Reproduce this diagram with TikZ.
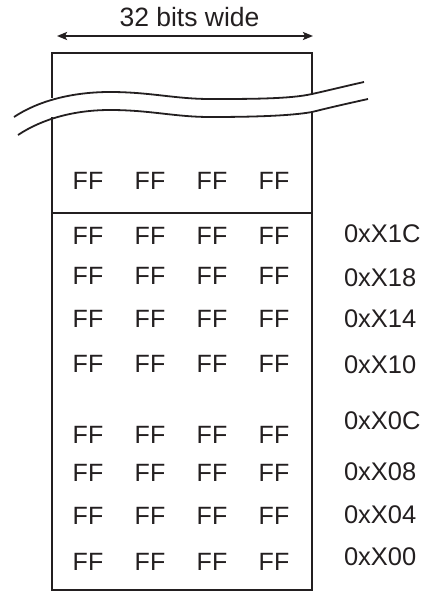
\documentclass[tikz,border=0pt]{standalone}
\usepackage{fontspec}
\setmainfont{Liberation Sans}
\usetikzlibrary{arrows.meta}
\definecolor{ink}{HTML}{231F20}
\begin{document}
\begin{tikzpicture}[x=1pt,y=-1pt,
  lbl/.style={inner sep=0pt,outer sep=0pt,text=ink,font=\fontsize{25}{30}\selectfont},
  edge/.style={draw=ink,line width=2pt},
  wave/.style={draw=ink,line width=1.8pt},
  dim/.style={draw=ink,line width=2pt,{Stealth[length=10pt,width=8pt,inset=2pt]}-{Stealth[length=10pt,width=8pt,inset=2pt]}}]
\useasboundingbox (0,0) rectangle (426,594);
% title and dimension arrow
\node[lbl,font=\fontsize{26.5}{31}\selectfont] (title) at (189.5,17) {32 bits wide};
\coordinate (aL) at (57,36);
\coordinate (aR) at (313,36);
\draw[dim] (aL) -- (aR);
% box corners
\coordinate (tl) at (52,53);
\coordinate (tr) at (312,53);
\coordinate (bl) at (52,590);
\coordinate (br) at (312,590);
\coordinate (dl) at (52,213);
\coordinate (dr) at (312,213);
\coordinate (ul) at (52,98);
\coordinate (ur) at (312,94);
\coordinate (ll) at (52,117);
\coordinate (lr) at (312,112);
% box outline with break
\draw[edge] (ul) -- (tl) -- (tr) -- (ur);
\draw[edge] (ll) -- (bl) -- (br) -- (lr);
\draw[edge] (dl) -- (dr);
% wavy break lines
\draw[wave] (14,117) .. controls (38,101) and (72,92) .. (110,92)
  .. controls (150,92) and (175,99) .. (210,99)
  .. controls (250,99) and (290,99) .. (312,94)
  .. controls (330,90) and (346,86) .. (364,82);
\draw[wave] (18,135) .. controls (42,119) and (74,110) .. (110,110)
  .. controls (150,110) and (175,117) .. (210,117)
  .. controls (250,117) and (290,116) .. (312,112)
  .. controls (332,107) and (350,103) .. (368,99);
% FF cells
\foreach \r/\y in {0/181,1/236,2/276,3/319,4/364,5/435,6/473,7/516,8/562}{
  \foreach \c/\x in {0/88,1/150,2/212,3/274}{
    \node[lbl] (ff\r\c) at (\x,\y) {FF};
  }
}
% address labels
\foreach \n/\t/\y in {a/0xX1C/234,b/0xX18/278,c/0xX14/319,d/0xX10/365,e/0xX0C/421,f/0xX08/472,g/0xX04/515,h/0xX00/557}{
  \node[lbl,anchor=west,font=\fontsize{25.5}{30}\selectfont] (addr\n) at (344,\y) {\t};
}
\end{tikzpicture}
\end{document}
